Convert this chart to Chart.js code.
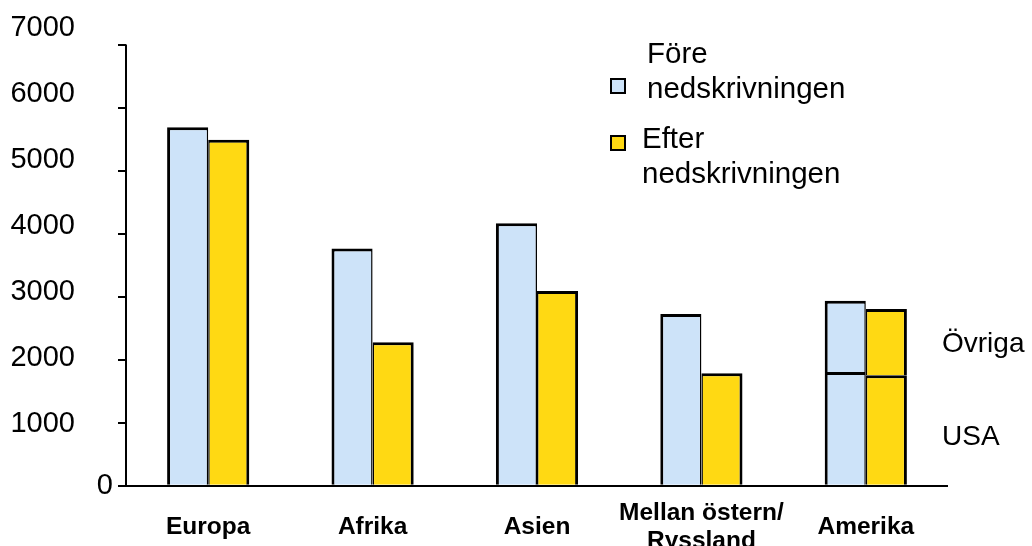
<!DOCTYPE html>
<html>
<head>
<meta charset="utf-8">
<script src="https://cdn.jsdelivr.net/npm/chart.js@4/dist/chart.umd.min.js"></script>
<style>
  html, body { margin: 0; padding: 0; background: #ffffff; }
  #wrap { width: 1032px; height: 546px; position: relative; }
</style>
</head>
<body>
<div id="wrap"><canvas id="chart" width="1032" height="546"></canvas></div>
<script>
// Regions on the category axis
const regions = ['Europa', 'Afrika', 'Asien', ['Mellan östern/', 'Ryssland'], 'Amerika'];

// Before the write-down (Amerika split into USA + Övriga)
const foreBase = [5700, 3770, 4175, 2730, 1810];
const foreRest = [null, null, null, null, 1130];

// After the write-down (Amerika split into USA + Övriga)
const efterBase = [5500, 2280, 3095, 1790, 1755];
const efterRest = [null, null, null, null, 1055];

// Value axis
const yTicks = [0, 1000, 2000, 3000, 4000, 5000, 6000, 7000];

// Legend and split texts
const legendLines = [['Före', 'nedskrivningen'], ['Efter', 'nedskrivningen']];
const splitLabels = ['USA', 'Övriga'];

const BLUE = '#cde3f9';
const YELLOW = '#ffd913';
const INK = '#000000';
const FONT = '"Liberation Sans", Arial, Helvetica, sans-serif';

const useTicks = s => { s.ticks = yTicks.map(v => ({ value: v })); };
const noPad = s => { s.paddingTop = 0; s.paddingBottom = 0; s.paddingLeft = 0; s.paddingRight = 0; };

// Vertical value axis line, running from the top tick down to zero
const axisLine = {
  id: 'axisLine',
  beforeDatasetsDraw(chart) {
    const { ctx, chartArea, scales: { y } } = chart;
    const x = chartArea.left;
    ctx.save();
    ctx.strokeStyle = INK;
    ctx.lineWidth = 2;
    ctx.beginPath();
    ctx.moveTo(x, y.getPixelForValue(yTicks[yTicks.length - 1]) - 1);
    ctx.lineTo(x, y.getPixelForValue(0) + 1);
    ctx.stroke();
    ctx.restore();
  }
};

// Two-line legend entries with a small square swatch
const legendBox = {
  id: 'legendBox',
  afterDraw(chart, args, opts) {
    const { ctx } = chart;
    ctx.save();
    opts.items.forEach((item, i) => {
      const ds = chart.data.datasets[item.dataset];
      ctx.fillStyle = ds.backgroundColor;
      ctx.fillRect(opts.boxX, item.boxY, opts.boxSize, opts.boxSize);
      ctx.strokeStyle = INK;
      ctx.lineWidth = 2;
      ctx.strokeRect(opts.boxX, item.boxY, opts.boxSize, opts.boxSize);
      ctx.fillStyle = INK;
      ctx.font = opts.font;
      ctx.textAlign = 'left';
      ctx.textBaseline = 'alphabetic';
      legendLines[i].forEach((line, k) => {
        ctx.fillText(line, item.textX, item.baseline + k * opts.lineHeight);
      });
    });
    ctx.restore();
  }
};

// Names of the stacked parts, placed beside the Amerika stack
const splitNames = {
  id: 'splitNames',
  afterDraw(chart, args, opts) {
    const { ctx, chartArea, scales: { y } } = chart;
    const last = regions.length - 1;
    const low = efterBase[last];
    const high = low + efterRest[last];
    const mids = [low / 2, (low + high) / 2];
    ctx.save();
    ctx.fillStyle = INK;
    ctx.font = opts.font;
    ctx.textAlign = 'left';
    ctx.textBaseline = 'middle';
    splitLabels.forEach((txt, i) => {
      ctx.fillText(txt, chartArea.right + opts.gap, y.getPixelForValue(mids[i]) + opts.shift[i]);
    });
    ctx.restore();
  }
};

const fmt = v => String(v);
const OUTER = 3, INNER = 1.5;

new Chart(document.getElementById('chart'), {
  type: 'bar',
  data: {
    labels: regions,
    datasets: [
      { label: 'Före nedskrivningen', data: foreBase, stack: 'fore', xAxisID: 'x', yAxisID: 'y',
        backgroundColor: BLUE, borderColor: INK, borderWidth: { top: OUTER, left: OUTER, right: INNER, bottom: OUTER } },
      { label: 'Före nedskrivningen – Övriga', data: foreRest, stack: 'fore', xAxisID: 'x', yAxisID: 'y',
        backgroundColor: BLUE, borderColor: INK, borderWidth: { top: OUTER, left: OUTER, right: INNER, bottom: OUTER } },
      { label: 'Efter nedskrivningen', data: efterBase, stack: 'efter', xAxisID: 'x', yAxisID: 'y',
        backgroundColor: YELLOW, borderColor: INK, borderWidth: { top: OUTER, left: INNER, right: OUTER, bottom: OUTER } },
      { label: 'Efter nedskrivningen – Övriga', data: efterRest, stack: 'efter', xAxisID: 'x', yAxisID: 'y',
        backgroundColor: YELLOW, borderColor: INK, borderWidth: { top: OUTER, left: INNER, right: OUTER, bottom: OUTER } }
    ]
  },
  options: {
    responsive: false,
    animation: false,
    devicePixelRatio: 1,
    layout: { padding: { top: 27.5, right: 84, bottom: 0, left: 0 } },
    datasets: { bar: { categoryPercentage: 0.5, barPercentage: 1.0, borderSkipped: 'start' } },
    plugins: {
      legend: { display: false },
      tooltip: { enabled: false },
      legendBox: {
        boxX: 611, boxSize: 14, lineHeight: 34.5, font: '29.5px ' + FONT,
        items: [
          { dataset: 0, boxY: 79, textX: 647, baseline: 63 },
          { dataset: 2, boxY: 136, textX: 642, baseline: 148 }
        ]
      },
      splitNames: { font: '28px ' + FONT, gap: -6, shift: [7, 2] }
    },
    scales: {
      x: {
        stacked: true,
        offset: true,
        grid: { display: false, drawTicks: false },
        border: { display: false },
        ticks: {
          color: INK, padding: 23, crossAlign: 'center', maxRotation: 0, autoSkip: false,
          font: { family: FONT, size: 24.5, weight: 'bold', lineHeight: 1.17 }
        },
        afterFit: s => { s.height = 56; noPad(s); }
      },
      y: {
        axis: 'y',
        stacked: true,
        position: 'left',
        weight: 0,
        min: -68,
        max: 7286,
        afterBuildTicks: useTicks,
        ticks: {
          autoSkip: false, color: INK, padding: 5,
          font: { family: FONT, size: 29 },
          callback: v => (v === 0 ? fmt(v) : '')
        },
        grid: {
          drawOnChartArea: true,
          color: c => (c.tick && c.tick.value === 0 ? INK : 'rgba(0,0,0,0)'),
          lineWidth: 2, tickColor: INK, tickLength: 8, tickWidth: 2
        },
        border: { display: false },
        afterFit: s => { s.width = 29; noPad(s); }
      },
      yLabels: {
        axis: 'y',
        type: 'linear',
        position: 'left',
        weight: 1,
        min: yTicks[0],
        max: yTicks[yTicks.length - 1],
        afterBuildTicks: useTicks,
        ticks: {
          autoSkip: false, color: INK, padding: 22,
          font: { family: FONT, size: 29 },
          callback: v => (v === 0 ? '' : fmt(v))
        },
        grid: { display: false, drawTicks: false },
        border: { display: false },
        afterFit: s => { s.width = 97; noPad(s); }
      }
    }
  },
  plugins: [axisLine, legendBox, splitNames]
});
</script>
</body>
</html>
